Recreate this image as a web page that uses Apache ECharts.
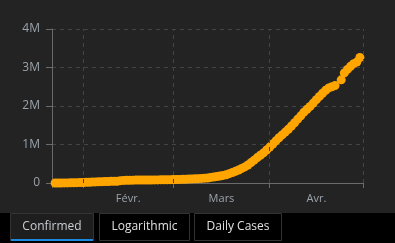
<!DOCTYPE html>
<html><head><meta charset="utf-8">
<script src="https://cdn.jsdelivr.net/npm/echarts@6/dist/echarts.min.js"></script>
<style>html,body{margin:0;padding:0;background:#000}#c{width:395px;height:243px}</style>
</head><body><div id="c"></div>
<script>
// Axis range (dates)
const axisStart = '2020-01-22';
const axisEnd = '2020-05-01';
// Month boundaries (grid lines) and month labels
const monthStarts = ['2020-02-01','2020-03-01','2020-04-01','2020-05-01'];
const monthLabels = ['Févr.','Mars','Avr.'];
const yTicks = [0, 1000000, 2000000, 3000000, 4000000];
const yTickLabels = ['0','1M','2M','3M','4M'];
const tabs = ['Confirmed','Logarithmic','Daily Cases'];
// Data: dates and cumulative confirmed
const dates = [
 '2020-01-23','2020-01-24','2020-01-25','2020-01-26','2020-01-27','2020-01-28','2020-01-29','2020-01-30','2020-01-31',
 '2020-02-01','2020-02-02','2020-02-03','2020-02-04','2020-02-05','2020-02-06','2020-02-07','2020-02-08','2020-02-09','2020-02-10',
 '2020-02-11','2020-02-12','2020-02-13','2020-02-14','2020-02-15','2020-02-16','2020-02-17','2020-02-18','2020-02-19','2020-02-20',
 '2020-02-21','2020-02-22','2020-02-23','2020-02-24','2020-02-25','2020-02-26','2020-02-27','2020-02-28','2020-02-29',
 '2020-03-01','2020-03-02','2020-03-03','2020-03-04','2020-03-05','2020-03-06','2020-03-07','2020-03-08','2020-03-09','2020-03-10',
 '2020-03-11','2020-03-12','2020-03-13','2020-03-14','2020-03-15','2020-03-16','2020-03-17','2020-03-18','2020-03-19','2020-03-20',
 '2020-03-21','2020-03-22','2020-03-23','2020-03-24','2020-03-25','2020-03-26','2020-03-27','2020-03-28','2020-03-29','2020-03-30','2020-03-31',
 '2020-04-01','2020-04-02','2020-04-03','2020-04-04','2020-04-05','2020-04-06','2020-04-07','2020-04-08','2020-04-09','2020-04-10',
 '2020-04-11','2020-04-12','2020-04-13','2020-04-14','2020-04-15','2020-04-16','2020-04-17','2020-04-18','2020-04-19','2020-04-20',
 '2020-04-21','2020-04-22','2020-04-24','2020-04-25','2020-04-26','2020-04-27','2020-04-28','2020-04-29','2020-04-30'
];
const confirmed = [
 654, 941, 1434, 2118, 2927, 5578, 6166, 8234, 9927,
 12038, 16787, 19887, 23898, 27643, 30802, 34395, 37129, 40159, 42762,
 44802, 45221, 60368, 66885, 69030, 71224, 73258, 75136, 75639, 76197,
 76819, 78572, 78958, 79561, 80406, 81388, 82746, 84112, 86011,
 88369, 90306, 92840, 95120, 97886, 101801, 105847, 109821, 113590, 118620,
 125875, 128352, 145205, 156101, 167454, 181574, 197102, 214821, 242570, 272208,
 304507, 336953, 378235, 418045, 467653, 529591, 593291, 660706, 720117, 782365, 857487,
 932605, 1013466, 1095917, 1176060, 1249754, 1321481, 1396476, 1479804, 1565278, 1657526,
 1745000, 1840000, 1915000, 1990000, 2075000, 2165000, 2250000, 2330000, 2410000, 2470000,
 2500000, 2530000, 2680000, 2860000, 2950000, 3030000, 3100000, 3140000, 3260000
];

const DAY = 86400000;
const t0 = Date.parse(axisStart + 'T00:00:00Z');
const dayIdx = d => Math.round((Date.parse(d + 'T00:00:00Z') - t0) / DAY);
const gridDays = [0].concat(monthStarts.map(dayIdx));
const labelDays = [];
for (let i = 0; i < monthLabels.length; i++) {
  const a = dayIdx(monthStarts[i]);
  const b = dayIdx(monthStarts[i + 1]);
  labelDays.push((a + b) / 2);
}
const labelMap = {};
labelDays.forEach((v, i) => labelMap[v] = monthLabels[i]);
const seriesData = dates.map((d, i) => [dayIdx(d), confirmed[i]]);

const chart = echarts.init(document.getElementById('c'), null, {renderer: 'canvas'});
const font = '"Open Sans", "Noto Sans", sans-serif';
const axisColor = '#6b6b6b';
const labelColor = '#9aa3ab';

// Tabs geometry
const tabDefs = [
  {x: 10, w: 83, active: true},
  {x: 99, w: 90, active: false},
  {x: 194, w: 87, active: false}
];
const graphics = [
  {type: 'rect', shape: {x: 0, y: 213, width: 395, height: 30}, style: {fill: '#000'}, z: 0}
];
tabDefs.forEach((t, i) => {
  graphics.push({type: 'rect', shape: {x: t.x + 0.5, y: 213.5, width: t.w, height: 27},
    style: {fill: t.active ? '#1e1e1e' : '#000', stroke: '#333', lineWidth: 1}, z: 1});
  if (t.active) {
    graphics.push({type: 'rect', shape: {x: t.x + 1, y: 239, width: t.w - 1, height: 2},
      style: {fill: '#1a8ae0'}, z: 2});
  }
  graphics.push({type: 'text', x: t.x + t.w / 2 + 0.5, y: 227,
    style: {text: tabs[i], fill: t.active ? '#c9ced3' : '#e0e0e0', font: '12px ' + font,
      align: 'center', verticalAlign: 'middle'}, z: 3});
});

chart.setOption({
  backgroundColor: '#232323',
  animation: false,
  grid: {left: 52, right: 32, top: 29, bottom: 60},
  xAxis: {
    type: 'value', min: 0, max: dayIdx(axisEnd),
    axisLine: {show: true, lineStyle: {color: axisColor, width: 1}},
    axisTick: {show: true, length: 5, customValues: gridDays, lineStyle: {color: axisColor}},
    splitLine: {show: false},
    axisLabel: {customValues: labelDays, color: labelColor, fontSize: 11, fontFamily: font, margin: 10,
      formatter: v => labelMap[v] || ''}
  },
  yAxis: {
    type: 'value', min: 0, max: 4000000, interval: 1000000,
    axisLine: {show: true, lineStyle: {color: axisColor, width: 1}},
    axisTick: {show: true, length: 6, lineStyle: {color: axisColor}},
    splitLine: {show: true, lineStyle: {color: '#444', type: [4, 4], width: 1}},
    axisLabel: {color: labelColor, fontSize: 12, fontFamily: font, margin: 12,
      formatter: v => yTickLabels[yTicks.indexOf(v)]}
  },
  series: [{
    type: 'scatter',
    data: seriesData,
    symbol: 'circle',
    symbolSize: 9,
    itemStyle: {color: '#FFA500', opacity: 1},
    markLine: {
      silent: true, symbol: 'none', label: {show: false},
      lineStyle: {color: '#444', type: [4, 4], width: 1},
      data: monthStarts.map(d => ({xAxis: dayIdx(d)}))
    },
    z: 3
  }],
  graphic: graphics
});
</script></body></html>
